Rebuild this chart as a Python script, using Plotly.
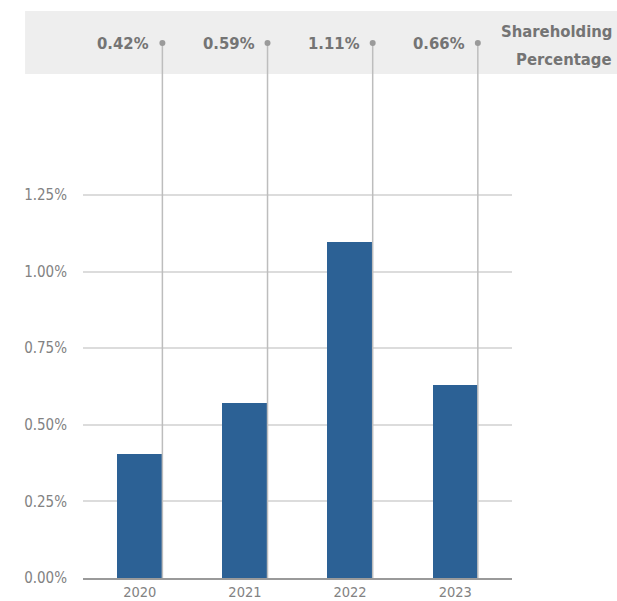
import plotly.graph_objects as go

# ---- data ----
years = ["2020", "2021", "2022", "2023"]
bar_values = [0.404, 0.571, 1.097, 0.630]          # bar heights (%)
label_values = [0.42, 0.59, 1.11, 0.66]            # values printed in the top band (%)
y_ticks = [0.0, 0.25, 0.50, 0.75, 1.00, 1.25]
series_title_lines = ["Shareholding", "Percentage"]

# ---- style ----
FONT = "Liberation Sans Narrow, DejaVu Sans Condensed, Roboto, sans-serif"
BAR_COLOR = "#2c6195"
BAR_WIDTH = 0.43
Y_TOP = 1.746

x_idx = list(range(len(years)))
edge_x = [i + BAR_WIDTH / 2 for i in x_idx]

fig = go.Figure()

fig.add_trace(go.Bar(
    x=x_idx, y=bar_values, width=BAR_WIDTH,
    marker=dict(color=BAR_COLOR, line=dict(width=0)),
    hoverinfo="skip", showlegend=False,
))

# leader lines from the band down to the axis, at each bar's right edge
for ex in edge_x:
    fig.add_trace(go.Scatter(
        x=[ex, ex], y=[0, Y_TOP], mode="lines",
        line=dict(color="#bdbdbd", width=1.5),
        hoverinfo="skip", showlegend=False, cliponaxis=False,
    ))
fig.add_trace(go.Scatter(
    x=edge_x, y=[Y_TOP] * len(edge_x), mode="markers",
    marker=dict(color="#9a9a9a", size=6),
    hoverinfo="skip", showlegend=False, cliponaxis=False,
))

LABEL_FONT = dict(family=FONT, size=16.5, color="#747474")
annotations = []
for ex, v in zip(edge_x, label_values):
    annotations.append(dict(
        x=ex, xref="x", y=1, yref="paper", yanchor="middle", xanchor="right",
        xshift=-11, text=f"<b>{v:.2f}%</b>", showarrow=False, font=LABEL_FONT,
    ))
for line, shift in zip(series_title_lines, [12, -16]):
    annotations.append(dict(
        x=1.2378, xref="paper", y=1.0, yref="paper", yanchor="middle", xanchor="right",
        yshift=shift, text=f"<b>{line}</b>", showarrow=False, align="right",
        font=LABEL_FONT,
    ))

fig.update_layout(
    width=617, height=601,
    margin=dict(l=83, r=105, t=43, b=23, pad=0, autoexpand=False),
    paper_bgcolor="white", plot_bgcolor="white",
    font=dict(family=FONT, color="#777777"),
    bargap=0,
    shapes=[dict(
        type="rect", xref="paper", yref="paper",
        x0=-0.135, x1=1.26, y0=0.942, y1=1.06,
        fillcolor="#eeeeee", line=dict(width=0), layer="below",
    )],
    annotations=annotations,
    xaxis=dict(
        range=[-0.54, 3.54], tickmode="array", tickvals=x_idx, ticktext=years,
        showgrid=False, zeroline=False, showline=True, linecolor="#9a9a9a", linewidth=2,
        tickfont=dict(family=FONT, size=14.5, color="#828282"),
        ticks="", fixedrange=True, automargin=False,
    ),
    yaxis=dict(
        range=[0, Y_TOP], tickmode="array", tickvals=y_ticks,
        ticktext=[f"{t:.2f}%" for t in y_ticks],
        showgrid=True, gridcolor="#dcdcdc", gridwidth=1.5, zeroline=False,
        showline=False, ticks="outside", ticklen=12, tickcolor="rgba(0,0,0,0)",
        tickfont=dict(family=FONT, size=15, color="#828282"),
        fixedrange=True, automargin=False,
    ),
)

fig.write_html(
    "out.html",
    config={"displayModeBar": False},
    post_script="document.body.style.margin='0px';document.body.style.overflow='hidden';",
)
